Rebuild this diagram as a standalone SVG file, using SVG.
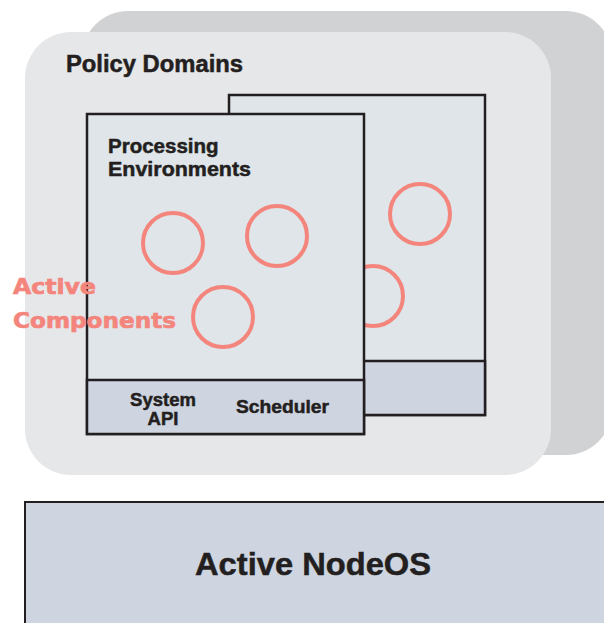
<svg xmlns="http://www.w3.org/2000/svg" width="604" height="623" viewBox="0 0 604 623">
  <style>
    .lbl { font-family: "Liberation Sans", Arial, sans-serif; font-weight: bold; fill: #231f20; stroke: #231f20; stroke-width: 0.5; }
    .pe { fill: #dfe5e9; stroke: #231f20; stroke-width: 2.5; }
    .band { fill: #ced5e0; stroke: #231f20; stroke-width: 2.5; }
    .ac { fill: none; stroke: #f4857d; stroke-width: 4; }
    .acl { font-family: "DejaVu Sans", Verdana, sans-serif; font-weight: bold; fill: #f4857d; stroke: #f4857d; stroke-width: 0.7; font-size: 22px; }
  </style>
  <rect width="604" height="623" fill="#ffffff"/>

  <!-- policy domains (stacked) -->
  <g id="policy-domain-back">
    <rect x="82" y="11" width="530" height="444" rx="46" fill="#d1d2d4"/>
  </g>
  <g id="policy-domain-front">
    <rect x="25" y="32" width="526" height="443" rx="46" fill="#e6e7e9"/>
    <text class="lbl" x="66" y="72" font-size="23" textLength="177" lengthAdjust="spacingAndGlyphs">Policy Domains</text>
  </g>

  <!-- processing environment behind -->
  <g id="pe-back">
    <rect class="pe" x="229" y="95" width="256" height="320"/>
    <rect class="band" x="229" y="361" width="256" height="54"/>
    <circle class="ac" cx="420" cy="214" r="30"/>
    <circle class="ac" cx="373" cy="296" r="30"/>
  </g>

  <!-- processing environment in front -->
  <g id="pe-front">
    <rect class="pe" x="87" y="114" width="277" height="320"/>
    <rect class="band" x="87" y="380" width="277" height="54"/>
    <text class="lbl" x="108" y="153" font-size="20.5">Processing</text>
    <text class="lbl" x="108" y="176" font-size="20.5" textLength="143" lengthAdjust="spacingAndGlyphs">Environments</text>
    <circle class="ac" cx="173" cy="243" r="30"/>
    <circle class="ac" cx="277" cy="236" r="30"/>
    <circle class="ac" cx="223" cy="317" r="30"/>
    <text class="lbl" x="163" y="406" font-size="18.5" text-anchor="middle">System</text>
    <text class="lbl" x="163" y="425" font-size="18.5" text-anchor="middle">API</text>
    <text class="lbl" x="236" y="413" font-size="18.5" textLength="93" lengthAdjust="spacingAndGlyphs">Scheduler</text>
  </g>

  <g id="active-components-label">
    <text class="acl" x="13" y="294" textLength="83" lengthAdjust="spacingAndGlyphs">Active</text>
    <text class="acl" x="13" y="328" textLength="163" lengthAdjust="spacingAndGlyphs">Components</text>
  </g>

  <g id="nodeos">
    <rect x="25" y="502" width="590" height="140" fill="#ced5e0" stroke="#231f20" stroke-width="2"/>
    <text class="lbl" x="195" y="575" font-size="32" textLength="236" lengthAdjust="spacingAndGlyphs">Active NodeOS</text>
  </g>

  <g id="connectors"></g>
</svg>
